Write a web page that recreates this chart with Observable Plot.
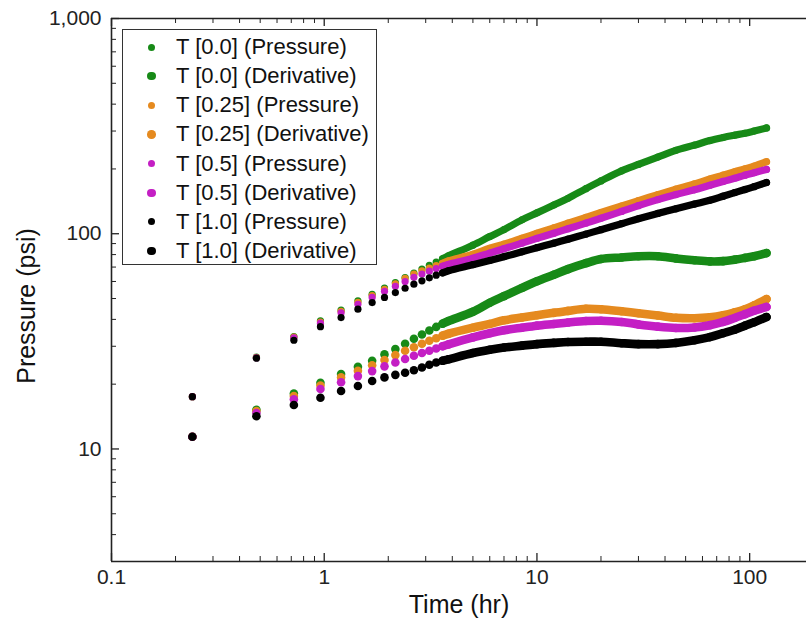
<!DOCTYPE html>
<html>
<head>
<meta charset="utf-8">
<script src="https://cdn.jsdelivr.net/npm/d3@7"></script>
<script src="https://cdn.jsdelivr.net/npm/@observablehq/plot@0.6"></script>
<style>
  html, body { margin: 0; padding: 0; background: #fff; }
  #wrap { position: relative; width: 806px; height: 621px; overflow: hidden; font-family: "Liberation Sans", Arial, sans-serif; }
  #legend { position: absolute; left: 122px; top: 29px; width: 255px; height: 236px; border: 1.5px solid #333; background: #fff; box-sizing: border-box; }
  .row { position: absolute; left: 0; height: 24px; line-height: 24px; font-size: 22px; color: #111; white-space: nowrap; }
  .row .mk { position: absolute; border-radius: 50%; }
  .row .tx { position: absolute; left: 53px; top: 0; }
  #ytitle { position: absolute; left: 26px; top: 306px; transform: translate(-50%, -50%) rotate(-90deg); font-size: 25px; color: #111; white-space: nowrap; line-height: 1; }
</style>
</head>
<body>
<div id="wrap"><div id="chart"></div><div id="legend"></div><div id="ytitle">Pressure (psi)</div></div>
<script>
// ---- data ----
const times = [0.24,0.48,0.72,0.96,1.2,1.44,1.68,1.92,2.16,2.4,2.64,2.88,3.12,3.36,3.6,3.84,5,6,7,8.5,10,12,14,17,20,25,30,37,45,55,65,75,85,95,105,120];

const gP = [17.5,26.7,33.3,39.4,44.2,48.8,52.3,55.9,59.3,62.6,65.6,68.5,71.3,73.9,76.5,79.0,88.5,97,104.5,116,125,136,146,162,176,196,210,227,244,258,271,280,287,293,300,310];
const gD = [11.4,15.2,18.1,20.3,22.3,24.1,25.7,27.5,29.1,30.8,32.5,34.0,35.5,36.9,38.2,39.3,43.4,47.8,51.3,56.0,60.1,64.5,68.5,73,76.3,77.6,78.6,78.6,76.8,75.3,74.4,74.6,75.8,77.2,78.6,81.3];
const oP = [17.5,26.6,33.1,38.9,43.6,48.0,51.6,55.2,58.5,62.0,65.0,67.3,69.3,71.2,72.9,74.8,80.3,85.6,89.5,95.3,100.5,106.5,112,119,125.5,134.5,142.5,152,161,170.5,179.5,187,194,200,206,216];
const oD = [11.4,15.0,17.6,19.7,21.5,23.1,24.5,25.9,27.3,28.6,29.7,30.8,31.8,32.7,33.6,34.3,36.6,38.1,39.6,40.8,41.8,42.9,43.8,44.8,44.6,43.6,42.7,41.7,40.7,40.5,40.9,41.8,43.1,44.6,46.5,49.7];
const mP = [17.5,26.5,32.8,38.4,42.9,47.0,50.6,54.0,57.0,60.0,62.7,65.0,67.0,68.9,70.6,72.0,76.9,81.3,85.2,90.4,95.1,100.5,105.5,112,118,127,135,144,152,160,168,175,181,187,192,199];
const mD = [11.4,14.7,17.0,19.0,20.4,21.8,23.0,24.2,25.2,26.2,27.1,27.9,28.6,29.3,30.0,30.6,33.0,34.5,35.6,36.6,37.4,38.1,38.7,39.3,39.4,38.9,37.9,37.0,36.5,36.7,37.6,38.9,40.6,42.3,43.9,45.7];
const kP = [17.5,26.4,32.0,37.0,40.8,44.6,47.9,50.6,53.3,55.8,58.3,60.4,62.4,64.2,65.8,67.3,71.8,75.1,78.2,82.4,86.1,90.4,94.3,99.6,104.4,111.3,117.4,124.3,130.6,137.3,143,149.4,155.2,160.4,165.5,173];
const kD = [11.4,14.2,16.0,17.3,18.6,19.6,20.7,21.5,22.1,22.6,23.2,23.9,24.6,25.2,25.7,26.1,27.9,28.9,29.6,30.2,30.7,31.1,31.4,31.5,31.5,31.0,30.7,30.7,31.1,32.0,33.1,34.5,35.8,37.4,38.8,41.0];

const seriesNames = ["T [0.0] (Pressure)","T [0.0] (Derivative)","T [0.25] (Pressure)","T [0.25] (Derivative)","T [0.5] (Pressure)","T [0.5] (Derivative)","T [1.0] (Pressure)","T [1.0] (Derivative)"];
const seriesValues = [gP, gD, oP, oD, mP, mD, kP, kD];
const seriesColors = ["#178a17","#178a17","#e58a1f","#e58a1f","#c41fc4","#c41fc4","#000000","#000000"];

const xMajor = [0.1, 1, 10, 100];
const xMinor = [0.2,0.3,0.4,0.5,0.6,0.7,0.8,0.9,2,3,4,5,6,7,8,9,20,30,40,50,60,70,80,90];
const yMajor = [10, 100, 1000];
const yMinor = [4,5,6,7,8,9,20,30,40,50,60,70,80,90,200,300,400,500,600,700,800,900];

// ---- build ----
const W = 806, H = 621, ML = 111, MT = 18, MB = 60, MR = 0;
const FW = W - ML - MR, FH = H - MT - MB;
const font = "Liberation Sans, Arial, sans-serif";

const marks = [];
seriesNames.forEach((name, si) => {
  const isDer = name.includes("Derivative");
  const r = isDer ? 4.3 : 3.6;
  const rows = times.map((t, i) => ({t, v: seriesValues[si][i]}));
  marks.push(Plot.line(rows.filter(d => d.t >= 3.6), {x: "t", y: "v", stroke: seriesColors[si], strokeWidth: 2 * r, curve: "catmull-rom", strokeLinecap: "round"}));
  marks.push(Plot.dot(rows, {x: "t", y: "v", r, fill: seriesColors[si], stroke: "none"}));
});

const axisStroke = "#222";
const chart = Plot.plot({
  width: W, height: H,
  marginLeft: ML, marginTop: MT, marginBottom: MB, marginRight: MR,
  style: {fontFamily: font, background: "#fff", overflow: "visible"},
  x: {type: "log", domain: [0.1, 185]},
  y: {type: "log", domain: [3, 1000]},
  marks: [
    ...marks,
    // frame lines
    Plot.ruleY([3], {stroke: axisStroke, strokeWidth: 1.6}),
    Plot.ruleY([1000], {stroke: axisStroke, strokeWidth: 1.6}),
    Plot.ruleX([0.1], {stroke: axisStroke, strokeWidth: 1.6}),
    // inward ticks
    Plot.ruleX(xMajor, {stroke: axisStroke, strokeWidth: 1.3, insetTop: FH - 8}),
    Plot.ruleX(xMinor, {stroke: axisStroke, strokeWidth: 1, insetTop: FH - 5}),
    Plot.ruleX(xMajor, {stroke: axisStroke, strokeWidth: 1.3, insetBottom: FH - 8}),
    Plot.ruleX(xMinor, {stroke: axisStroke, strokeWidth: 1, insetBottom: FH - 5}),
    Plot.ruleY(yMajor, {stroke: axisStroke, strokeWidth: 1.3, insetRight: FW - 8}),
    Plot.ruleY(yMinor, {stroke: axisStroke, strokeWidth: 1, insetRight: FW - 5}),
    // tick labels
    Plot.axisX({ticks: xMajor, tickSize: 0, tickPadding: 8, tickFormat: d => String(d), fontSize: 21, label: null, color: "#222"}),
    Plot.axisY({ticks: yMajor, tickSize: 0, tickPadding: 10, tickFormat: d3.format(","), fontSize: 21, label: null, color: "#222"}),
    // x axis title
    Plot.text(["Time (hr)"], {frameAnchor: "bottom", dy: 43, fontSize: 25, fill: "#111", lineAnchor: "middle"})
  ]
});
document.getElementById("chart").appendChild(chart);

// ---- legend ----
const leg = document.getElementById("legend");
seriesNames.forEach((name, i) => {
  const isDer = name.includes("Derivative");
  const d = isDer ? 8.5 : 7;
  const row = document.createElement("div");
  row.className = "row";
  row.style.top = (46 - 29 - 12 + i * 29.15) + "px";
  const mk = document.createElement("span");
  mk.className = "mk";
  mk.style.width = d + "px"; mk.style.height = d + "px";
  mk.style.background = seriesColors[i];
  mk.style.left = (28.5 - d / 2) + "px";
  mk.style.top = (12 - d / 2) + "px";
  const tx = document.createElement("span");
  tx.className = "tx";
  tx.textContent = name;
  row.appendChild(mk); row.appendChild(tx);
  leg.appendChild(row);
});
</script>
</body>
</html>
